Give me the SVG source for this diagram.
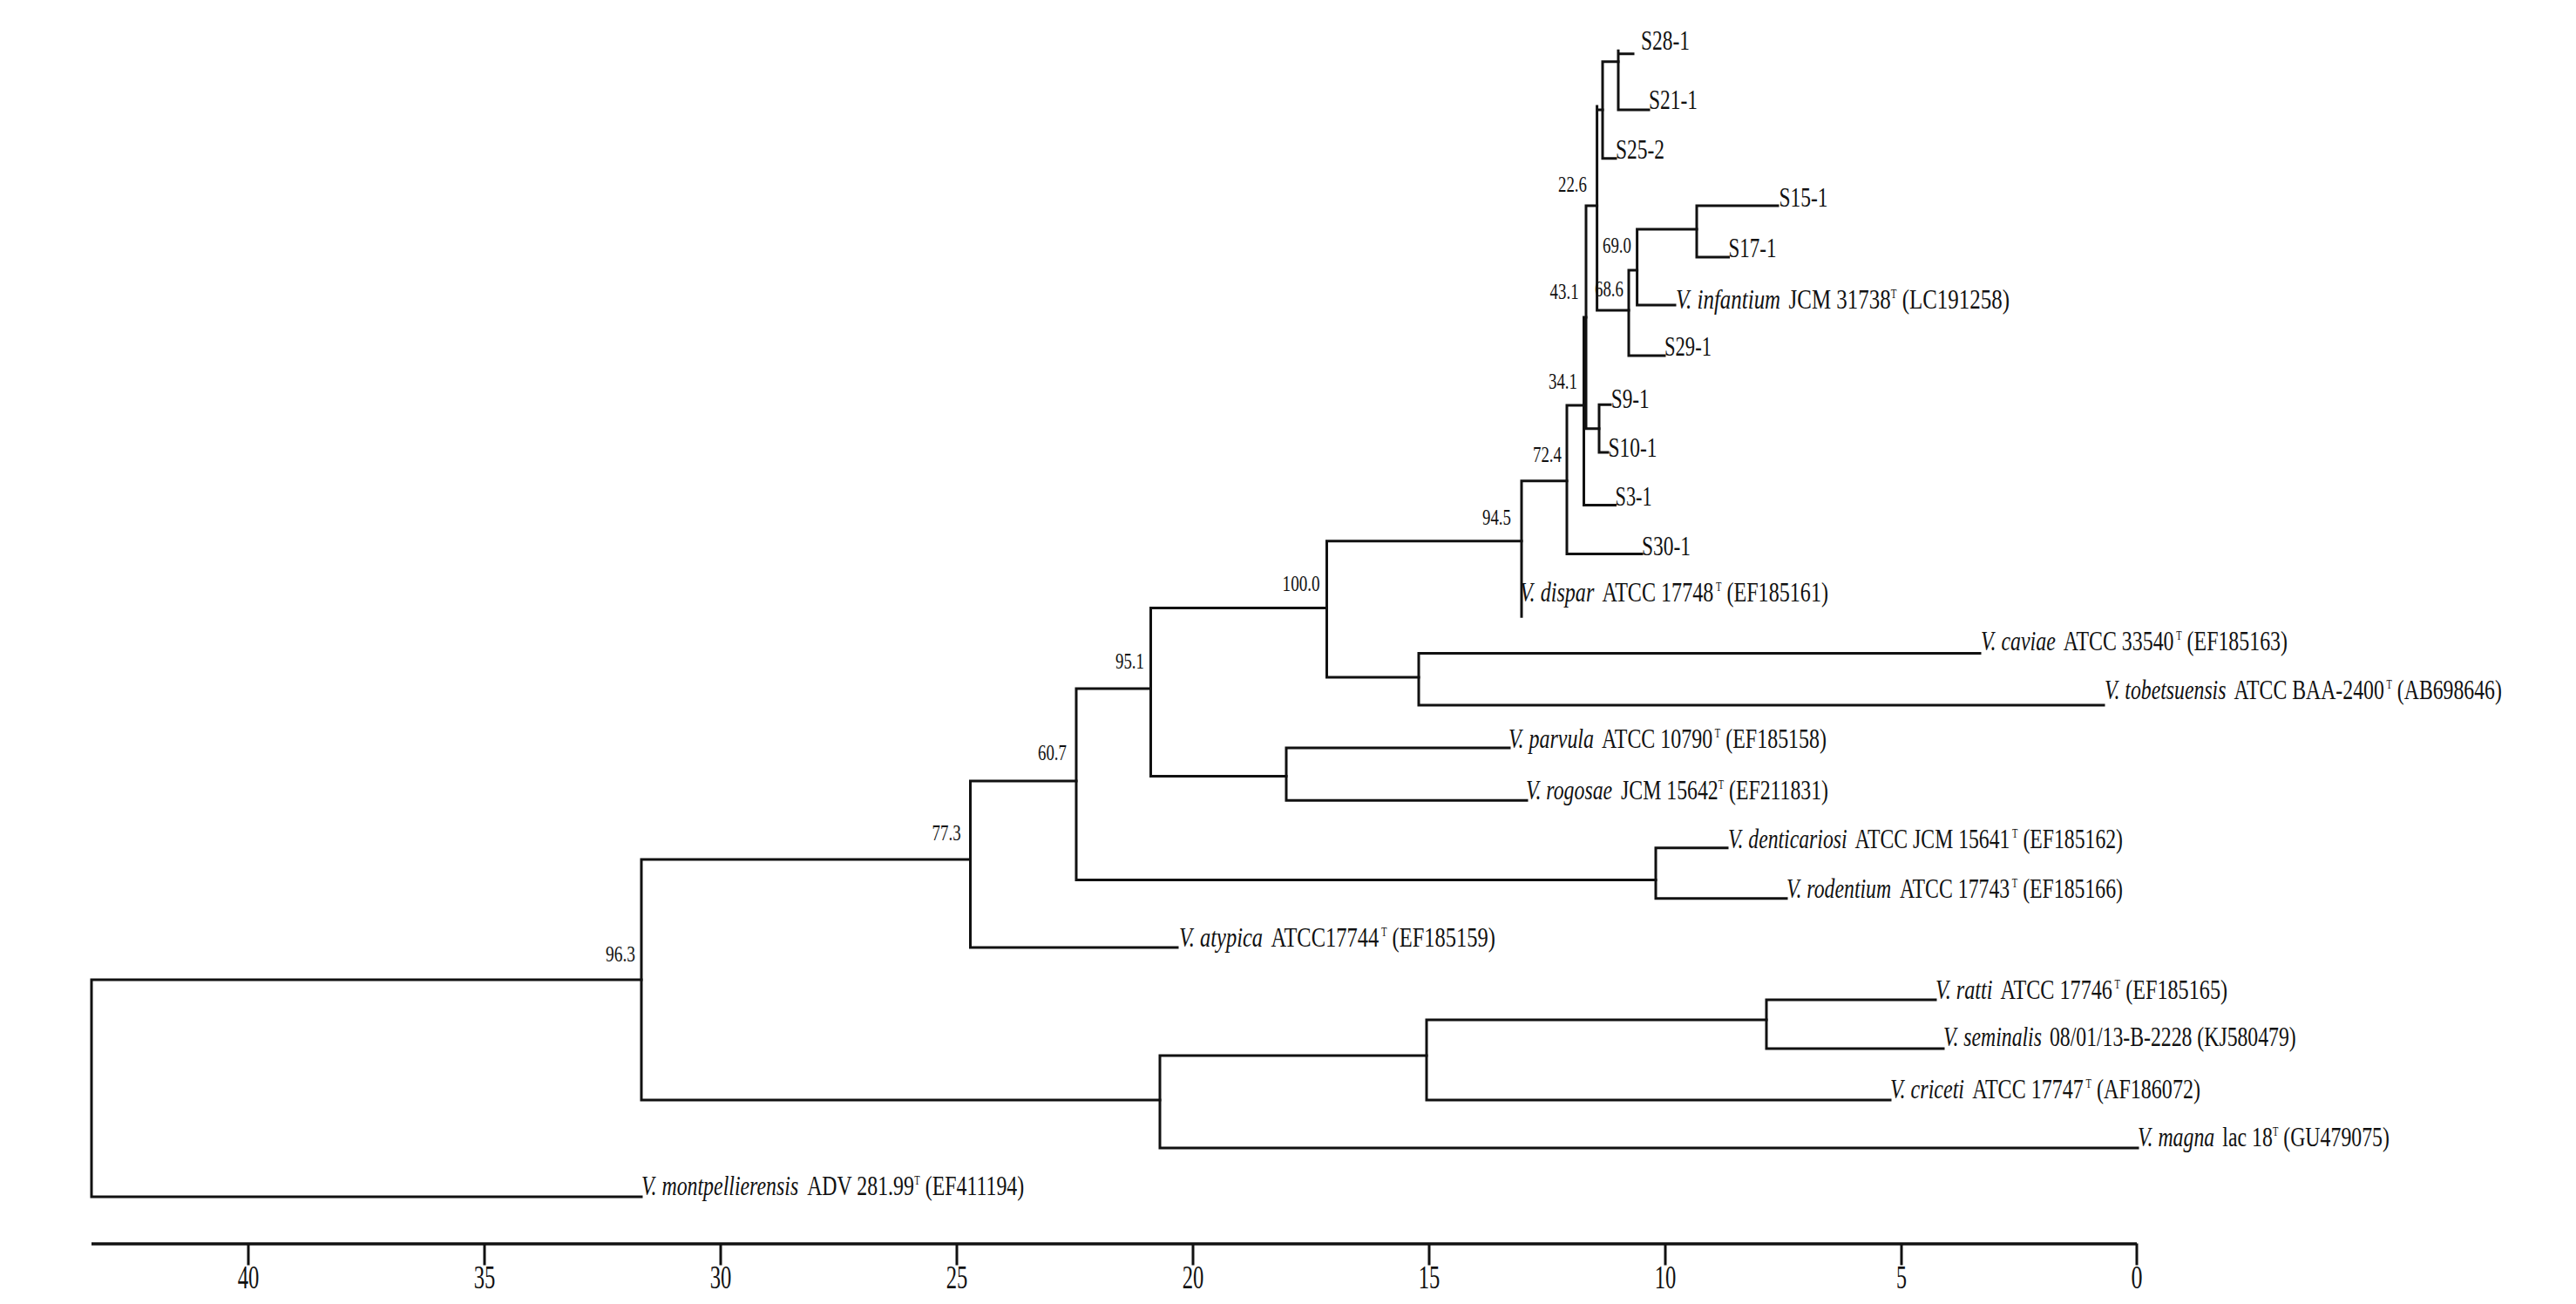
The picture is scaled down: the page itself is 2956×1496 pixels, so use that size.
<svg xmlns="http://www.w3.org/2000/svg" width="2956" height="1496" viewBox="0 0 2956 1496">
<style>
text{font-family:"Liberation Serif","Times New Roman",serif;fill:#111}
.sp text{font-size:32px}
.sp text.sup{font-size:14px}
.sp text.i{font-style:italic}
.s{font-size:31px}
.n{font-size:25px}
.t{font-size:37px}
.br{fill:none;stroke:#111;stroke-width:3;stroke-linecap:square}
.ax{fill:none;stroke:#111;stroke-width:3.5}
</style>
<rect width="2956" height="1496" fill="#fff"/>
<g id="connectors" class="br">
<path d="M105,1124V1373M105,1124H736M105,1373H736"/>
<path d="M736,986V1262M736,986H1113.5M736,1262H1331"/>
<path d="M1113.5,896V1087M1113.5,896H1235M1113.5,1087H1351"/>
<path d="M1235,790V1009.5M1235,790H1320.5M1235,1009.5H1900"/>
<path d="M1320.5,697.5V890.5M1320.5,697.5H1522.5M1320.5,890.5H1476"/>
<path d="M1522.5,620.7V777M1522.5,620.7H1746M1522.5,777H1628"/>
<path d="M1628,749.5V809M1628,749.5H2272M1628,809H2414"/>
<path d="M1746,551.7V707.3M1746,551.7H1798"/>
<path d="M1798,465V635.5M1798,465H1817.5M1798,635.5H1884"/>
<path d="M1817.5,364V579.5M1817.5,364H1820M1817.5,579.5H1853.5"/>
<path d="M1820,236V491.7M1820,236H1832.6M1820,491.7H1835"/>
<path d="M1835,464.3V519M1835,464.3H1848M1835,519H1845"/>
<path d="M1832.6,122V356M1832.6,126H1839M1832.6,356H1869"/>
<path d="M1839,70.7V181.7M1839,70.7H1857M1839,181.7H1854"/>
<path d="M1857,58.3V126M1857,61.7H1874M1857,126H1892"/>
<path d="M1869,310V408M1869,310H1878.6M1869,408H1910"/>
<path d="M1878.6,263V350M1878.6,263H1947M1878.6,350H1922"/>
<path d="M1947,236V295M1947,236H2040M1947,295H1983.5"/>
<path d="M1476,858V918.3M1476,858H1732M1476,918.3H1752"/>
<path d="M1900,972.7V1030.7M1900,972.7H1982M1900,1030.7H2050"/>
<path d="M1331,1211V1317M1331,1211H1637M1331,1317H2453"/>
<path d="M1637,1170V1262M1637,1170H2027M1637,1262H2169"/>
<path d="M2027,1147V1203M2027,1147H2221M2027,1203H2230"/>
</g>
<g id="leaves-strains" class="s">
<text id="S28-1" x="1883" y="57" textLength="56" lengthAdjust="spacingAndGlyphs">S28-1</text>
<text id="S21-1" x="1892" y="125" textLength="56" lengthAdjust="spacingAndGlyphs">S21-1</text>
<text id="S25-2" x="1854" y="182" textLength="56" lengthAdjust="spacingAndGlyphs">S25-2</text>
<text id="S15-1" x="2041.5" y="237" textLength="56" lengthAdjust="spacingAndGlyphs">S15-1</text>
<text id="S17-1" x="1983.5" y="295" textLength="55" lengthAdjust="spacingAndGlyphs">S17-1</text>
<text id="S29-1" x="1910" y="408" textLength="54" lengthAdjust="spacingAndGlyphs">S29-1</text>
<text id="S9-1" x="1848.7" y="468" textLength="44" lengthAdjust="spacingAndGlyphs">S9-1</text>
<text id="S10-1" x="1845.5" y="524" textLength="56" lengthAdjust="spacingAndGlyphs">S10-1</text>
<text id="S3-1" x="1853.6" y="580" textLength="42" lengthAdjust="spacingAndGlyphs">S3-1</text>
<text id="S30-1" x="1884" y="637" textLength="56" lengthAdjust="spacingAndGlyphs">S30-1</text>
</g>
<g id="leaves-species" class="sp">
<g id="infantium" transform="translate(1923 354) scale(0.7797 1)">
<text class="i" x="0" y="0">V. infantium</text>
<text x="166.2" y="0">JCM 31738</text>
<text class="sup" x="316.5" y="-12">T</text>
<text x="333" y="0">(LC191258)</text>
</g>
<g id="dispar" transform="translate(1744 690) scale(0.7534 1)">
<text class="i" x="0" y="0">V. dispar</text>
<text x="125.3" y="0">ATCC 17748</text>
<text class="sup" x="298.7" y="-12">T</text>
<text x="315.2" y="0">(EF185161)</text>
</g>
<g id="caviae" transform="translate(2273 746) scale(0.7464 1)">
<text class="i" x="0" y="0">V. caviae</text>
<text x="127.1" y="0">ATCC 33540</text>
<text class="sup" x="300.4" y="-12">T</text>
<text x="317" y="0">(EF185163)</text>
</g>
<g id="tobetsuensis" transform="translate(2415 802) scale(0.7428 1)">
<text class="i" x="0" y="0">V. tobetsuensis</text>
<text x="200" y="0">ATCC BAA-2400</text>
<text class="sup" x="435.6" y="-12">T</text>
<text x="452.1" y="0">(AB698646)</text>
</g>
<g id="parvula" transform="translate(1731 858) scale(0.7486 1)">
<text class="i" x="0" y="0">V. parvula</text>
<text x="143.1" y="0">ATCC 10790</text>
<text class="sup" x="316.4" y="-12">T</text>
<text x="333" y="0">(EF185158)</text>
</g>
<g id="rogosae" transform="translate(1751 917) scale(0.7434 1)">
<text class="i" x="0" y="0">V. rogosae</text>
<text x="146.7" y="0">JCM 15642</text>
<text class="sup" x="296.9" y="-12">T</text>
<text x="313.4" y="0">(EF211831)</text>
</g>
<g id="denticariosi" transform="translate(1983 973) scale(0.7412 1)">
<text class="i" x="0" y="0">V. denticariosi</text>
<text x="196.4" y="0">ATCC JCM 15641</text>
<text class="sup" x="440" y="-12">T</text>
<text x="456.6" y="0">(EF185162)</text>
</g>
<g id="rodentium" transform="translate(2050 1030) scale(0.7429 1)">
<text class="i" x="0" y="0">V. rodentium</text>
<text x="175.1" y="0">ATCC 17743</text>
<text class="sup" x="348.4" y="-12">T</text>
<text x="365" y="0">(EF185166)</text>
</g>
<g id="atypica" transform="translate(1353 1086) scale(0.7653 1)">
<text class="i" x="0" y="0">V. atypica</text>
<text x="137.8" y="0">ATCC17744</text>
<text class="sup" x="303.1" y="-12">T</text>
<text x="319.6" y="0">(EF185159)</text>
</g>
<g id="ratti" transform="translate(2221 1146) scale(0.7559 1)">
<text class="i" x="0" y="0">V. ratti</text>
<text x="98.7" y="0">ATCC 17746</text>
<text class="sup" x="272" y="-12">T</text>
<text x="288.6" y="0">(EF185165)</text>
</g>
<g id="seminalis" transform="translate(2230 1200) scale(0.742 1)">
<text class="i" x="0" y="0">V. seminalis</text>
<text x="164.4" y="0">08/01/13-B-2228 (KJ580479)</text>
</g>
<g id="criceti" transform="translate(2169 1260) scale(0.752 1)">
<text class="i" x="0" y="0">V. criceti</text>
<text x="125.3" y="0">ATCC 17747</text>
<text class="sup" x="298.7" y="-12">T</text>
<text x="315.2" y="0">(AF186072)</text>
</g>
<g id="magna" transform="translate(2453 1315) scale(0.7448 1)">
<text class="i" x="0" y="0">V. magna</text>
<text x="130.7" y="0">lac 18</text>
<text class="sup" x="208" y="-12">T</text>
<text x="224.5" y="0">(GU479075)</text>
</g>
<g id="montpellierensis" transform="translate(736 1371) scale(0.7454 1)">
<text class="i" x="0" y="0">V. montpellierensis</text>
<text x="255.1" y="0">ADV 281.99</text>
<text class="sup" x="420.4" y="-12">T</text>
<text x="437" y="0">(EF411194)</text>
</g>
</g>
<g id="bootstrap" class="n">
<text x="1788" y="220" textLength="33" lengthAdjust="spacingAndGlyphs">22.6</text>
<text x="1839" y="290" textLength="33" lengthAdjust="spacingAndGlyphs">69.0</text>
<text x="1830" y="340" textLength="33" lengthAdjust="spacingAndGlyphs">68.6</text>
<text x="1778.6" y="343" textLength="33" lengthAdjust="spacingAndGlyphs">43.1</text>
<text x="1777" y="446" textLength="33" lengthAdjust="spacingAndGlyphs">34.1</text>
<text x="1759" y="530" textLength="33" lengthAdjust="spacingAndGlyphs">72.4</text>
<text x="1701" y="602" textLength="33" lengthAdjust="spacingAndGlyphs">94.5</text>
<text x="1471.6" y="678" textLength="43" lengthAdjust="spacingAndGlyphs">100.0</text>
<text x="1280" y="767" textLength="33" lengthAdjust="spacingAndGlyphs">95.1</text>
<text x="1191" y="872" textLength="33" lengthAdjust="spacingAndGlyphs">60.7</text>
<text x="1069.6" y="964" textLength="33" lengthAdjust="spacingAndGlyphs">77.3</text>
<text x="695" y="1103" textLength="34" lengthAdjust="spacingAndGlyphs">96.3</text>
</g>
<g id="scale">
<path class="ax" d="M105,1427H2452"/>
<path class="br" d="M285,1428V1450M556,1428V1450M827,1428V1450M1098,1428V1450M1369,1428V1450M1640,1428V1450M1911,1428V1450M2182,1428V1450M2452,1428V1450"/>
<g class="t">
<text x="272.7" y="1478" textLength="24.6" lengthAdjust="spacingAndGlyphs">40</text>
<text x="543.7" y="1478" textLength="24.6" lengthAdjust="spacingAndGlyphs">35</text>
<text x="814.7" y="1478" textLength="24.6" lengthAdjust="spacingAndGlyphs">30</text>
<text x="1085.7" y="1478" textLength="24.6" lengthAdjust="spacingAndGlyphs">25</text>
<text x="1356.7" y="1478" textLength="24.6" lengthAdjust="spacingAndGlyphs">20</text>
<text x="1627.7" y="1478" textLength="24.6" lengthAdjust="spacingAndGlyphs">15</text>
<text x="1898.7" y="1478" textLength="24.6" lengthAdjust="spacingAndGlyphs">10</text>
<text x="2176" y="1478" textLength="12" lengthAdjust="spacingAndGlyphs">5</text>
<text x="2445.5" y="1478" textLength="13" lengthAdjust="spacingAndGlyphs">0</text>
</g>
</g>
</svg>
